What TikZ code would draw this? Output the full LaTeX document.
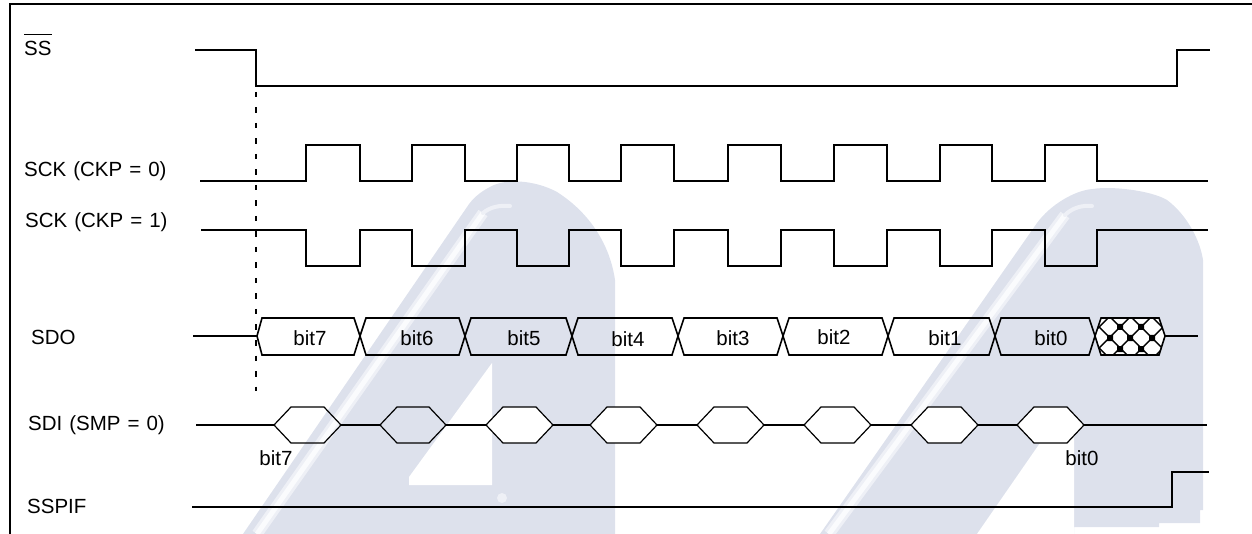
\documentclass[tikz,border=0pt]{standalone}
\usepackage{fontspec}
\setmainfont{Liberation Sans}
\usepackage{xcolor}
\definecolor{wmlavender}{RGB}{221,225,236}
\definecolor{wmstripe}{RGB}{238,240,246}
\definecolor{wmpale}{RGB}{250,251,253}
\usetikzlibrary{positioning}
\newcommand{\siglabelfont}{\fontsize{20.5}{24}\selectfont\spaceskip 7pt\relax}
\tikzset{
  sigline/.style={black, line width=2.1pt, line join=miter},
  busline/.style={black, line width=1.6pt, line join=miter},
  hexline/.style={black, line width=1.2pt, line join=miter},
  siglabel/.style={font=\siglabelfont, anchor=west, inner sep=0pt},
  bitlabel/.style={font=\fontsize{20.5}{24}\selectfont, inner sep=0pt}
}

\begin{document}
\begin{tikzpicture}[x=1pt, y=-1pt]
  \useasboundingbox (0,0) rectangle (1252,534);

  % Watermark, left
  \fill[wmlavender] (615,534) -- (615,280) .. controls (610,245) and (590,213) .. (557,192)
       .. controls (535,180) and (505,178) .. (490,187) .. controls (480,192) and (472,199) .. (467,207)
       -- (243,534) -- cycle;
  \fill[white] (492,363) -- (492,485) -- (409,485) -- (409,477) -- cycle;
  \draw[wmstripe, line width=11pt] (483,213) -- (257,534);
  \draw[wmpale, line width=5pt] (483,213) -- (257,534);
  \draw[wmstripe, line width=4pt, line cap=round] (483,213) .. controls (490,207) and (500,205) .. (510,206);
  \fill[wmstripe] (502,498) circle (5);

  % Watermark, right
  \fill[wmlavender] (1203,510) -- (1203,260) .. controls (1200,240) and (1187,215) .. (1167,200)
       .. controls (1150,190) and (1110,186) .. (1093,189) .. controls (1075,190) and (1050,205) .. (1037,223)
       -- (820,534) -- (977,534) -- (1074,534) -- (1074,527) -- (1159,527) -- (1159,523) -- (1200,523) -- (1200,510) -- cycle;
  \fill[white] (1074,425) -- (1074,534) -- (977,534) -- (1040,443) -- cycle;
  \draw[wmstripe, line width=11pt] (1065,215) -- (829,534);
  \draw[wmpale, line width=5pt] (1065,215) -- (829,534);
  \draw[wmstripe, line width=4pt, line cap=round] (1065,215) .. controls (1072,208) and (1082,205) .. (1092,206);

  % Frame
  \draw[sigline] (10,534) -- (10,4) -- (1252,4);

  % Signal names
  \node[siglabel, anchor=base west] (ssname) at (24,56) {$\overline{\mbox{SS\rule{0pt}{20pt}}}$};
  \node[siglabel] (sckzero) at (24,171) {SCK (CKP = 0)};
  \node[siglabel] (sckone) at (25,222) {SCK (CKP = 1)};
  \node[siglabel] (sdoname) at (31,337) {SDO};
  \node[siglabel] (sdiname) at (28,425) {SDI (SMP = 0)};
  \node[siglabel] (sspifname) at (27,506) {SSPIF};

  % Slave select
  \draw[sigline] (195,50) -- (256,50) -- (256,86) -- (1177,86) -- (1177,50) -- (1210,50);
  \draw[black, line width=2pt, dash pattern=on 5.5pt off 10pt] (256,92) -- (256,391);

  % Clock, idle low
  \draw[sigline] (200,181) -- (306,181) -- (306,145) -- (360,145) -- (360,181) -- (412,181) -- (412,145)
       -- (465,145) -- (465,181) -- (517,181) -- (517,145) -- (569,145) -- (569,181) -- (621,181) -- (621,145)
       -- (674,145) -- (674,181) -- (728,181) -- (728,145) -- (781,145) -- (781,181) -- (834,181) -- (834,145)
       -- (887,145) -- (887,181) -- (940,181) -- (940,145) -- (992,145) -- (992,181) -- (1045,181) -- (1045,145)
       -- (1097,145) -- (1097,181) -- (1208,181);

  % Clock, idle high
  \draw[sigline] (201,230) -- (306,230) -- (306,266) -- (360,266) -- (360,230) -- (412,230) -- (412,266)
       -- (465,266) -- (465,230) -- (517,230) -- (517,266) -- (569,266) -- (569,230) -- (621,230) -- (621,266)
       -- (674,266) -- (674,230) -- (728,230) -- (728,266) -- (781,266) -- (781,230) -- (834,230) -- (834,266)
       -- (887,266) -- (887,230) -- (940,230) -- (940,266) -- (992,266) -- (992,230) -- (1045,230) -- (1045,266)
       -- (1097,266) -- (1097,230) -- (1208,230);

  % SDO
  \draw[sigline] (193,336) -- (257,336);
  \draw[busline] (257,336) -- (262,318) -- (354,318) -- (360,336) -- (354,355) -- (262,355) -- cycle;
  \draw[busline] (360,336) -- (366,318) -- (459,318) -- (465,336) -- (459,355) -- (366,355) -- cycle;
  \draw[busline] (465,336) -- (471,318) -- (566,318) -- (572,336) -- (566,355) -- (471,355) -- cycle;
  \draw[busline] (572,336) -- (578,318) -- (672,318) -- (678,336) -- (672,355) -- (578,355) -- cycle;
  \draw[busline] (678,336) -- (684,318) -- (777,318) -- (783,336) -- (777,355) -- (684,355) -- cycle;
  \draw[busline] (783,336) -- (789,318) -- (882,318) -- (888,336) -- (882,355) -- (789,355) -- cycle;
  \draw[busline] (888,336) -- (894,318) -- (989,318) -- (995,336) -- (989,355) -- (894,355) -- cycle;
  \draw[busline] (995,336) -- (1001,318) -- (1089,318) -- (1095,336) -- (1089,355) -- (1001,355) -- cycle;
  \node[bitlabel] (sdoseven) at (310,338) {bit7};
  \node[bitlabel] (sdosix) at (417,338) {bit6};
  \node[bitlabel] (sdofive) at (524,338) {bit5};
  \node[bitlabel] (sdofour) at (628,339) {bit4};
  \node[bitlabel] (sdothree) at (733,338) {bit3};
  \node[bitlabel] (sdotwo) at (834,337) {bit2};
  \node[bitlabel] (sdoone) at (945,338) {bit1};
  \node[bitlabel] (sdozero) at (1051,338) {bit0};

  % SDO, undefined after bit0
  \begin{scope}
    \clip (1095,336) -- (1101,318) -- (1159,318) -- (1165,336) -- (1159,355) -- (1101,355) -- cycle;
    \fill[white] (1090,314) rectangle (1170,360);
    \draw[black, line width=1.4pt] (1067,316) -- (1108,357) (1088,316) -- (1129,357) (1109,316) -- (1150,357)
         (1130,316) -- (1171,357) (1151,316) -- (1192,357);
    \draw[black, line width=1.4pt] (1110,316) -- (1069,357) (1131,316) -- (1090,357) (1152,316) -- (1111,357)
         (1174,316) -- (1133,357) (1195,316) -- (1154,357);
    \fill[black] (1117,324) rectangle (1123,330) (1138,324) rectangle (1144,330)
         (1107,335) rectangle (1113,341) (1127,335) rectangle (1133,341) (1149,335) rectangle (1155,341)
         (1117,346) rectangle (1123,352) (1138,346) rectangle (1144,352);
  \end{scope}
  \draw[busline] (1095,336) -- (1101,318) -- (1159,318) -- (1165,336) -- (1159,355) -- (1101,355) -- cycle;
  \draw[sigline] (1165,336) -- (1198,336);

  % SDI
  \draw[sigline] (196,425) -- (274,425) (341,425) -- (380,425) (446,425) -- (486,425) (553,425) -- (590,425)
       (657,425) -- (697,425) (764,425) -- (804,425) (871,425) -- (911,425) (978,425) -- (1017,425) (1084,425) -- (1207,425);
  \draw[hexline] (274,425) -- (291,407) -- (324,407) -- (341,425) -- (324,443) -- (291,443) -- cycle;
  \draw[hexline] (380,425) -- (397,407) -- (429,407) -- (446,425) -- (429,443) -- (397,443) -- cycle;
  \draw[hexline, fill=white] (486,425) -- (503,407) -- (536,407) -- (553,425) -- (536,443) -- (503,443) -- cycle;
  \draw[hexline, fill=white] (590,425) -- (607,407) -- (640,407) -- (657,425) -- (640,443) -- (607,443) -- cycle;
  \draw[hexline, fill=white] (697,425) -- (714,407) -- (747,407) -- (764,425) -- (747,443) -- (714,443) -- cycle;
  \draw[hexline, fill=white] (804,425) -- (821,407) -- (854,407) -- (871,425) -- (854,443) -- (821,443) -- cycle;
  \draw[hexline, fill=white] (911,425) -- (928,407) -- (961,407) -- (978,425) -- (961,443) -- (928,443) -- cycle;
  \draw[hexline, fill=white] (1017,425) -- (1034,407) -- (1067,407) -- (1084,425) -- (1067,443) -- (1034,443) -- cycle;
  \node[bitlabel] (sdiseven) at (276,458) {bit7};
  \node[bitlabel] (sdizero) at (1082,458) {bit0};

  % Interrupt flag
  \draw[sigline] (192,507) -- (1172,507) -- (1172,472) -- (1209,472);
\end{tikzpicture}
\end{document}
